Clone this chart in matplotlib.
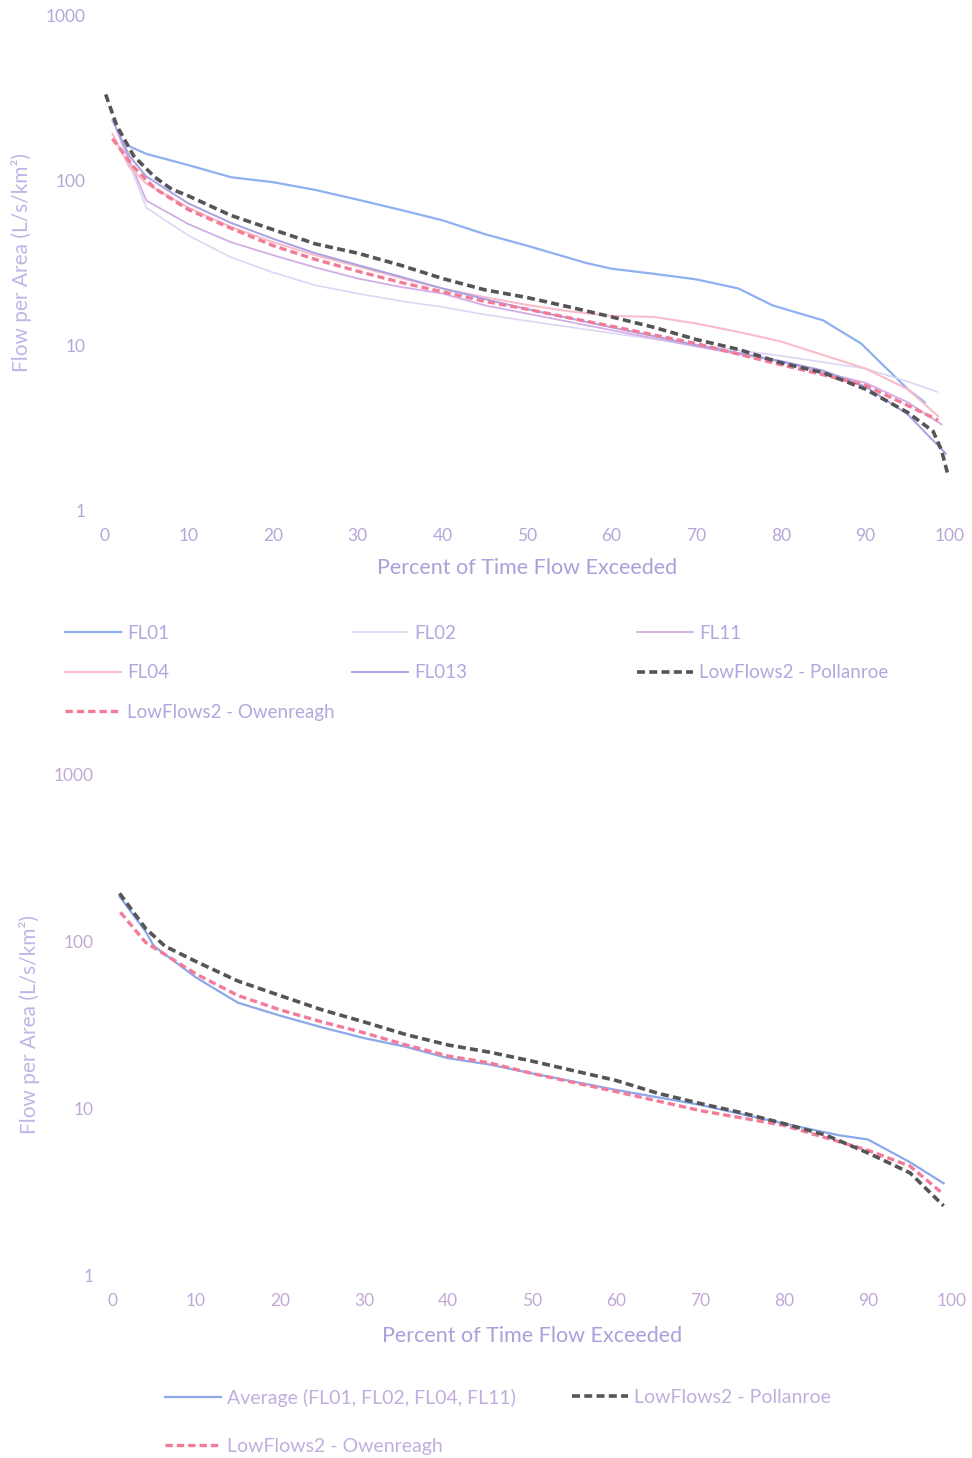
import matplotlib
matplotlib.use("Agg")
import matplotlib.pyplot as plt

plt.rcParams['font.family'] = ['Lato', 'DejaVu Sans']

# ---- top panel data (percent of time exceeded, flow per area) ----
fl01_x = [3, 5, 10, 15, 20, 25, 30, 35, 40, 45, 50, 57, 60, 65, 70, 75, 79, 85, 89.5, 95, 97]
fl01_y = [160, 144, 123, 104, 97, 87, 76, 66, 57, 47, 40, 31.4, 29, 27, 25, 22, 17.4, 14.1, 10.2, 5.4, 4.5]

fl02_x = [2, 5, 10, 15, 20, 25, 30, 35, 40, 45, 50, 60, 70, 80, 90, 95, 98.5]
fl02_y = [170, 68, 46, 34, 27.5, 23, 20.5, 18.5, 17, 15.3, 14, 11.8, 10, 8.6, 7.2, 6, 5.2]

fl11_x = [1.5, 5, 10, 15, 20, 25, 30, 35, 40, 45, 50, 60, 70, 80, 90, 95, 99]
fl11_y = [200, 75, 54, 42, 35, 29.5, 25.3, 22.5, 20.5, 17.4, 15.5, 12.3, 9.8, 7.9, 5.9, 4.5, 3.3]

fl04_x = [1, 3, 5, 10, 15, 20, 25, 30, 35, 40, 45, 50, 55, 60, 65, 70, 75, 80, 85, 90, 95, 98.6]
fl04_y = [190, 120, 95, 68, 52, 42, 35, 30, 25.5, 22, 19.5, 17.5, 16, 15, 14.8, 13.5, 12, 10.5, 8.7, 7.2, 5.4, 3.7]

fl013_x = [1, 3, 5, 10, 15, 20, 25, 30, 35, 40, 45, 50, 60, 70, 80, 85, 90, 95, 99.5]
fl013_y = [230, 140, 105, 72, 55, 44, 36, 30.5, 26, 22, 19, 16.5, 12.8, 10, 8, 7, 5.6, 3.8, 2.2]

poll_x = [0.2, 1.5, 3.5, 6, 8, 10, 15, 20, 25, 30, 35, 40, 45, 50, 55, 60, 65, 70, 75, 80, 85, 90, 95, 98, 99, 99.8]
poll_y = [330, 214, 140, 104, 88, 80, 61, 50, 41, 36, 30.5, 25.3, 21.6, 19.4, 17, 14.8, 12.8, 10.8, 9.4, 7.8, 6.8, 5.4, 3.9, 3.0, 2.3, 1.6]

owen_x = [1, 3.5, 6, 10, 15, 20, 25, 30, 35, 40, 45, 50, 55, 60, 65, 70, 75, 80, 85, 90, 95, 98.6]
owen_y = [178, 120, 89, 66, 51, 40, 33, 28, 24, 21, 18.4, 16.5, 14.6, 13, 11.5, 10.2, 8.8, 7.6, 6.6, 5.7, 4.3, 3.5]

# ---- bottom panel data ----
avg_x = [0.9, 4, 5, 10, 15, 20, 25, 30, 35, 40, 45, 50, 60, 70, 80, 86.5, 90, 95, 99]
avg_y = [187, 115, 94, 61, 43, 36, 30.6, 26.4, 23.4, 20, 18.3, 16.2, 12.9, 10.5, 8.1, 6.9, 6.5, 4.75, 3.55]

poll2_x = [0.9, 2.4, 4, 6.3, 10, 15, 20, 25, 30, 35, 40, 45, 50, 60, 65, 70, 75, 80, 85, 90, 95, 99]
poll2_y = [195, 154, 120, 94, 76, 58, 47.5, 39, 33, 27.7, 24, 21.7, 19.2, 14.7, 12.3, 10.7, 9.4, 8.1, 6.9, 5.4, 4.1, 2.6]

owen2_x = [1, 4, 10, 15, 20, 25, 30, 35, 40, 45, 50, 60, 70, 80, 90, 95, 99]
owen2_y = [150, 99, 64, 47.5, 39, 33, 28.4, 24, 20.6, 18.7, 16.2, 12.6, 9.7, 7.9, 5.6, 4.5, 3.05]

x_ticks = [0, 10, 20, 30, 40, 50, 60, 70, 80, 90, 100]
y_ticks = [1, 10, 100, 1000]
y_ticklabels = ['1', '10', '100', '1000']

W, H = 972, 1458
fig = plt.figure(figsize=(W / 100, H / 100), dpi=100)


def style_axis(ax, col, xl_pad):
    ax.set_yscale('log')
    ax.set_xlim(0, 100)
    ax.set_ylim(1, 1000)
    ax.set_xticks(x_ticks)
    ax.set_yticks(y_ticks)
    ax.set_yticklabels(y_ticklabels)
    ax.minorticks_off()
    for s in ax.spines.values():
        s.set_visible(False)
    ax.tick_params(length=0, labelsize=12.5, labelcolor=col, pad=13)
    ax.set_xlabel('Percent of Time Flow Exceeded', fontsize=15.5, color='#ad9fdb', labelpad=xl_pad)
    ax.set_ylabel('Flow per Area (L/s/km²)', fontsize=15, color='#c2b4e6', labelpad=10)


# top panel
ax1 = fig.add_axes([104 / W, 1 - 510 / H, 846 / W, 495 / H])
style_axis(ax1, '#b6a6da', 10)
l_fl01, = ax1.plot(fl01_x, fl01_y, color='#8eb0f2', lw=1.6)
l_fl02, = ax1.plot(fl02_x, fl02_y, color='#ddd6f4', lw=1.2)
l_fl11, = ax1.plot(fl11_x, fl11_y, color='#d3aee6', lw=1.3)
l_fl04, = ax1.plot(fl04_x, fl04_y, color='#f9bcc8', lw=1.5)
l_fl013, = ax1.plot(fl013_x, fl013_y, color='#a9a2e2', lw=1.4)
l_owen, = ax1.plot(owen_x, owen_y, color='#f27b98', lw=2.4, dashes=(2.2, 1.2))
l_poll, = ax1.plot(poll_x, poll_y, color='#555558', lw=2.6, dashes=(2.2, 1.2))

leg_kw = dict(loc='upper left', frameon=False, fontsize=13.5, borderpad=0, borderaxespad=0,
              handlelength=3.0, handletextpad=0.32, labelspacing=1.2, labelcolor='#b4a6de')
cols = [
    (65, [l_fl01, l_fl04, l_owen], ['FL01', 'FL04', 'LowFlows2 - Owenreagh']),
    (352, [l_fl02, l_fl013], ['FL02', 'FL013']),
    (637, [l_fl11, l_poll], ['FL11', 'LowFlows2 - Pollanroe']),
]
for xpx, hs, ls in cols:
    fig.legend(hs, ls, bbox_to_anchor=(xpx / W, 1 - 625 / H), **leg_kw)

# bottom panel
ax2 = fig.add_axes([112 / W, 1 - 1275 / H, 840 / W, 500 / H])
style_axis(ax2, '#c2a8d6', 12)
a_avg, = ax2.plot(avg_x, avg_y, color='#8aa8ea', lw=1.6)
a_owen, = ax2.plot(owen2_x, owen2_y, color='#f27b98', lw=2.4, dashes=(2.2, 1.2))
a_poll, = ax2.plot(poll2_x, poll2_y, color='#555558', lw=2.6, dashes=(2.2, 1.2))

leg_kw2 = dict(leg_kw, fontsize=14, handlelength=2.9, handletextpad=0.3, labelspacing=1.6,
               labelcolor='#c2aede')
fig.legend([a_avg, a_owen], ['Average (FL01, FL02, FL04, FL11)', 'LowFlows2 - Owenreagh'],
           bbox_to_anchor=(165 / W, 1 - 1389 / H), **leg_kw2)
fig.legend([a_poll], ['LowFlows2 - Pollanroe'],
           bbox_to_anchor=(572 / W, 1 - 1389 / H), **leg_kw2)

fig.savefig('out.png', dpi=100)
